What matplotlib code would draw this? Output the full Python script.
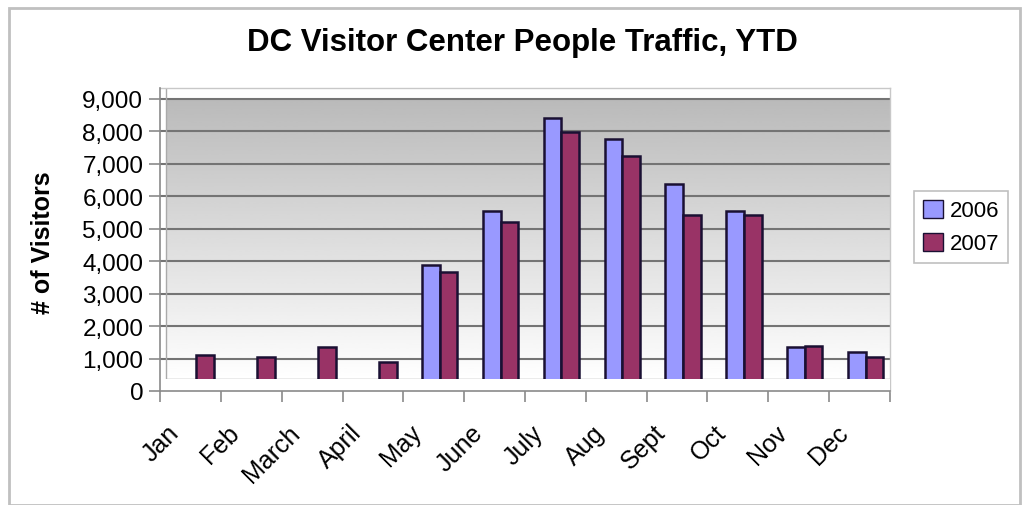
import numpy as np
import matplotlib
matplotlib.use('Agg')
import matplotlib.pyplot as plt
from matplotlib.patches import Patch, Rectangle
from matplotlib.transforms import ScaledTranslation

plt.rcParams['font.family'] = ['Liberation Sans', 'DejaVu Sans']

# visitor counts per month
months = ['Jan', 'Feb', 'March', 'April', 'May', 'June',
          'July', 'Aug', 'Sept', 'Oct', 'Nov', 'Dec']
visitors_2006 = [0, 0, 0, 0, 3880, 5540, 8400, 7770, 6380, 5550, 1370, 1200]
visitors_2007 = [1110, 1050, 1360, 880, 3670, 5200, 7970, 7250, 5420, 5420, 1390, 1050]
y_ticks = [0, 1000, 2000, 3000, 4000, 5000, 6000, 7000, 8000, 9000]

C2006 = '#9999ff'
C2007 = '#993366'
EDGE = '#1a1033'

W, H = 1027, 506
fig = plt.figure(figsize=(W / 100, H / 100), dpi=100, facecolor='white')

# plot area in pixels: left, right, top, bottom
L, R, T, B = 160, 890, 89, 392
ax = fig.add_axes([L / W, 1 - B / H, (R - L) / W, (B - T) / H])
ax.set_facecolor('white')

x = np.arange(len(months))
ax.set_xlim(-0.5, len(months) - 0.5)
ymax = 9000 + (100 - T) / ((B - 100) / 9000)
ax.set_ylim(0, ymax)

px_x = (R - L) / len(months)       # pixels per category
px_y = (B - 100) / 9000            # pixels per visitor
dx = 6 / px_x                      # depth shift of the back wall
floor = 12 / px_y                  # floor depth

# back wall with vertical grey gradient
grad = np.linspace(0.73, 1.0, 256).reshape(-1, 1)
ax.imshow(grad, cmap='gray', vmin=0, vmax=1, aspect='auto',
          extent=(-0.5 + dx, len(months) - 0.5, floor, 9000),
          origin='upper', zorder=0, interpolation='bicubic')

# gridlines
ax.hlines(y_ticks[1:], -0.5, len(months) - 0.5, color='#747474', lw=1.5, zorder=1)
ax.hlines(floor, -0.5 + dx, len(months) - 0.5, color='#9a9a9a', lw=1.0, zorder=1)
ax.vlines(-0.5 + dx, floor, ymax, color='#aaaaaa', lw=1.0, zorder=1)

# bars
bw = 17.6 / px_x
ax.bar(x + dx - bw / 2, visitors_2006, width=bw, color=C2006,
       edgecolor=EDGE, linewidth=1.8, zorder=3)
ax.bar(x + dx + bw / 2, visitors_2007, width=bw, color=C2007,
       edgecolor=EDGE, linewidth=1.8, zorder=3)

# floor strip in front of the bar bases
ax.add_patch(Rectangle((-0.5, 0), len(months), floor, facecolor='white',
                       edgecolor='none', zorder=4))

# axes
for s in ['top', 'right']:
    ax.spines[s].set_color('#c8c8c8')
    ax.spines[s].set_linewidth(1.0)
for s in ['left', 'bottom']:
    ax.spines[s].set_color('#8a8a8a')
    ax.spines[s].set_linewidth(1.2)
    ax.spines[s].set_zorder(5)

ax.set_yticks(y_ticks)
ax.set_yticklabels([f'{v:,}' for v in y_ticks])
ax.tick_params(axis='y', direction='out', length=8, width=1.2, color='#8a8a8a',
               labelsize=17.5, pad=4)

ax.set_xticks(np.arange(-0.5, len(months)), [''] * (len(months) + 1))
ax.tick_params(axis='x', which='major', direction='out', length=8, width=1.2,
               color='#8a8a8a')
ax.set_xticks(x, months, minor=True)
ax.tick_params(axis='x', which='minor', length=0, labelsize=18, pad=21)
shift = ScaledTranslation(-24 / 100, 0, fig.dpi_scale_trans)
for lab in ax.get_xticklabels(minor=True):
    lab.set_rotation(45)
    lab.set_ha('right')
    lab.set_rotation_mode('anchor')
    lab.set_transform(lab.get_transform() + shift)

# titles
fig.text(522 / W, 1 - 43 / H, 'DC Visitor Center People Traffic, YTD',
         ha='center', va='center', fontsize=22.5, fontweight='bold')
fig.text(43 / W, 1 - 243 / H, '# of Visitors', rotation=90,
         ha='center', va='center', fontsize=18, fontweight='bold')

# legend
handles = [Patch(facecolor=C2006, edgecolor=EDGE, label='2006'),
           Patch(facecolor=C2007, edgecolor=EDGE, label='2007')]
leg = fig.legend(handles=handles, loc='center',
                 bbox_to_anchor=(912 / W, 1 - 265 / H, 98 / W, 74 / H),
                 fontsize=16, frameon=True, fancybox=False, edgecolor='#b0b0b0',
                 handlelength=0.9, handleheight=0.9, handletextpad=0.3,
                 borderpad=0.4, labelspacing=0.5)
leg.get_frame().set_linewidth(1.2)

# outer chart border
fig.add_artist(Rectangle((9 / W, 0), 1011 / W, 1 - 9 / H, transform=fig.transFigure,
                         fill=False, edgecolor='#c0c0c0', lw=2))

fig.savefig('out.png', dpi=100, facecolor='white')
